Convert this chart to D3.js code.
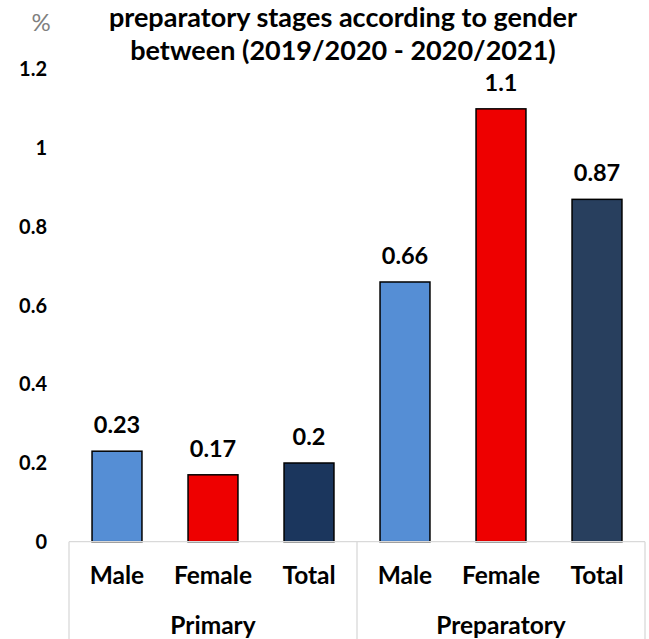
<!DOCTYPE html>
<html>
<head>
<meta charset="utf-8">
<script src="https://cdn.jsdelivr.net/npm/d3@7"></script>
<style>
  html, body { margin: 0; padding: 0; background: #ffffff; }
  svg { display: block; }
  text { font-family: Lato, "Open Sans", sans-serif; }
</style>
</head>
<body>
<script>
// ---- data ----
const titleLines = ["preparatory stages according to gender", "between (2019/2020 - 2020/2021)"];
const unitLabel = "%";
const groups = ["Primary", "Preparatory"];
const categories = ["Male", "Female", "Total"];
const primaryValues = [0.23, 0.17, 0.2];
const preparatoryValues = [0.66, 1.1, 0.87];
const yTicks = [0, 0.2, 0.4, 0.6, 0.8, 1, 1.2];
const yTickLabels = ["0", "0.2", "0.4", "0.6", "0.8", "1", "1.2"];

// ---- build rows ----
const valuesByGroup = [primaryValues, preparatoryValues];
const rows = [];
groups.forEach((g, gi) => {
  categories.forEach((c, ci) => {
    rows.push({ key: g + "|" + c, group: g, gi, cat: c, ci, value: valuesByGroup[gi][ci] });
  });
});

const W = 649, H = 639;
const svg = d3.select("body").append("svg").attr("width", W).attr("height", H);

const x = d3.scaleBand()
  .domain(rows.map(d => d.key))
  .range([69, 645])
  .paddingInner(0.48)
  .paddingOuter(0.24);

const y = d3.scaleLinear().domain([0, 1.2]).range([541.7, 69.5]);

const colorFor = d => {
  if (d.cat === "Male") return "#558ED5";
  if (d.cat === "Female") return "#EE0000";
  return d.gi === 0 ? "#1B365D" : "#283F5E";
};

// bars
svg.append("g").selectAll("rect").data(rows).join("rect")
  .attr("x", d => x(d.key))
  .attr("y", d => y(d.value))
  .attr("width", x.bandwidth())
  .attr("height", d => y(0) - y(d.value))
  .attr("fill", colorFor)
  .attr("stroke", "#000")
  .attr("stroke-width", 1.5);

// value labels
svg.append("g").selectAll("text").data(rows).join("text")
  .attr("x", d => x(d.key) + x.bandwidth() / 2)
  .attr("y", d => y(d.value) - 18)
  .attr("text-anchor", "middle")
  .attr("font-weight", "bold")
  .attr("font-size", 23.5)
  .attr("fill", "#000")
  .text(d => String(d.value));

// y axis labels (no line)
const yAxis = d3.axisLeft(y).tickValues(yTicks).tickSize(0).tickPadding(0)
  .tickFormat((d, i) => yTickLabels[i]);
const yg = svg.append("g").attr("transform", "translate(47,0)").call(yAxis);
yg.select(".domain").remove();
yg.selectAll("text")
  .attr("font-family", "Lato, 'Open Sans', sans-serif")
  .attr("font-weight", "bold")
  .attr("font-size", 20)
  .attr("fill", "#000");

// category axis frame
const axisColor = "#D9D9D9";
const frame = svg.append("g").attr("stroke", axisColor).attr("stroke-width", 1.3);
const x0 = x.range()[0], x1 = x.range()[1];
frame.append("line").attr("x1", x0).attr("x2", x1).attr("y1", y(0)).attr("y2", y(0));
// dividers at group boundaries: computed from band steps
const boundaries = [x0];
groups.forEach((g, gi) => {
  const keys = rows.filter(r => r.gi === gi).map(r => r.key);
  const start = x(keys[0]) - x.step() * x.paddingOuter();
  boundaries.push(start + x.step() * keys.length);
});
frame.selectAll("line.div").data(boundaries).join("line")
  .attr("class", "div")
  .attr("x1", d => d).attr("x2", d => d)
  .attr("y1", y(0)).attr("y2", H);

// category labels
svg.append("g").selectAll("text").data(rows).join("text")
  .attr("x", d => x(d.key) + x.bandwidth() / 2)
  .attr("y", 584)
  .attr("text-anchor", "middle")
  .attr("font-weight", "bold")
  .attr("font-size", 24.5)
  .attr("fill", "#000")
  .text(d => d.cat);

// group labels
svg.append("g").selectAll("text").data(groups).join("text")
  .attr("x", (g, gi) => (boundaries[gi] + boundaries[gi + 1]) / 2)
  .attr("y", 634)
  .attr("text-anchor", "middle")
  .attr("font-weight", "bold")
  .attr("font-size", 24.5)
  .attr("fill", "#000")
  .text(g => g);

// unit label
svg.append("text")
  .attr("x", 41).attr("y", 31)
  .attr("text-anchor", "middle")
  .attr("font-size", 24)
  .attr("fill", "#7F7F7F")
  .text(unitLabel);

// title
svg.append("g").selectAll("text").data(titleLines).join("text")
  .attr("x", 343)
  .attr("y", (d, i) => 27 + i * 32.5)
  .attr("text-anchor", "middle")
  .attr("font-weight", "bold")
  .attr("font-size", 27)
  .attr("fill", "#000")
  .text(d => d);
</script>
</body>
</html>
